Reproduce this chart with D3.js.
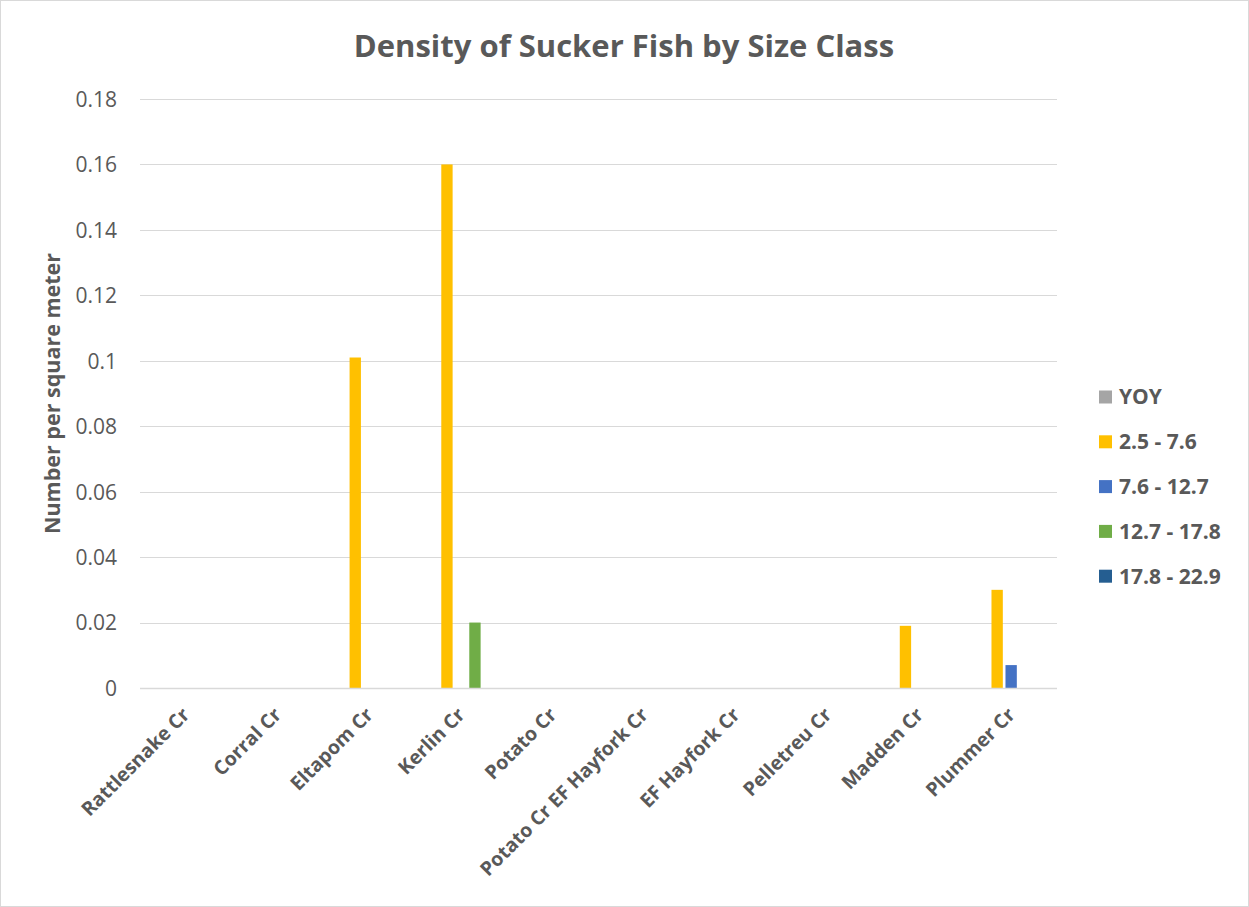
<!DOCTYPE html>
<html>
<head>
<meta charset="utf-8">
<script src="https://cdn.jsdelivr.net/npm/d3@7"></script>
<style>
  html, body { margin: 0; padding: 0; background: #fff; }
  svg { display: block; }
</style>
</head>
<body>
<script>
// Sucker fish density per stream, grouped by size class (cm)
const categories = ["Rattlesnake Cr", "Corral Cr", "Eltapom Cr", "Kerlin Cr", "Potato Cr",
  "Potato Cr EF Hayfork Cr", "EF Hayfork Cr", "Pelletreu Cr", "Madden Cr", "Plummer Cr"];
const seriesNames = ["YOY", "2.5 - 7.6", "7.6 - 12.7", "12.7 - 17.8", "17.8 - 22.9"];
const seriesColors = ["#a5a5a5", "#ffc000", "#4472c4", "#70ad47", "#255e91"];
const yoy      = [0, 0, 0, 0, 0, 0, 0, 0, 0, 0];
const s25_76   = [0, 0, 0.101, 0.16, 0, 0, 0, 0, 0.019, 0.03];
const s76_127  = [0, 0, 0, 0, 0, 0, 0, 0, 0, 0.007];
const s127_178 = [0, 0, 0, 0.02, 0, 0, 0, 0, 0, 0];
const s178_229 = [0, 0, 0, 0, 0, 0, 0, 0, 0, 0];
const yTicks = [0, 0.02, 0.04, 0.06, 0.08, 0.1, 0.12, 0.14, 0.16, 0.18];

const seriesValues = [yoy, s25_76, s76_127, s127_178, s178_229];

const W = 1249, H = 907;
const plotLeft = 140, plotRight = 1057, plotTop = 99, plotBottom = 688;
const textColor = "#595959";
const font = "'Open Sans', 'Liberation Sans', sans-serif";

const svg = d3.select("body").append("svg").attr("width", W).attr("height", H);
svg.append("rect").attr("x", 0.5).attr("y", 0.5).attr("width", W - 1).attr("height", H - 1)
  .attr("fill", "#fff").attr("stroke", "#d9d9d9");

const x = d3.scaleBand().domain(categories).range([plotLeft, plotRight]).paddingInner(0).paddingOuter(0);
const y = d3.scaleLinear().domain([0, 0.18]).range([plotBottom, plotTop]);
// five slots per category, bars occupy the middle of each group
const groupWidth = 70;
const xs = d3.scaleBand().domain(seriesNames)
  .range([(x.bandwidth() - groupWidth) / 2, (x.bandwidth() + groupWidth) / 2])
  .paddingInner(0.19).paddingOuter(0.095);

// gridlines
svg.append("g").selectAll("line").data(yTicks.slice(1)).join("line")
  .attr("x1", plotLeft).attr("x2", plotRight)
  .attr("y1", d => Math.round(y(d)) + 0.5).attr("y2", d => Math.round(y(d)) + 0.5)
  .attr("stroke", "#d9d9d9").attr("stroke-width", 1);

// y tick labels
const yAxis = d3.axisLeft(y).tickValues(yTicks).tickSize(0).tickPadding(0)
  .tickFormat(d => String(+d.toFixed(2)));
const gy = svg.append("g").attr("transform", `translate(117,0)`).call(yAxis);
gy.select(".domain").remove();
gy.selectAll("text").attr("fill", textColor).attr("font-family", font).attr("font-size", 21).attr("dy", "0.35em");

// bars
const groups = svg.append("g").selectAll("g").data(seriesNames).join("g")
  .attr("fill", (d, i) => seriesColors[i]);
groups.selectAll("rect")
  .data((s, i) => categories.map((c, j) => ({ c, s, v: seriesValues[i][j] })))
  .join("rect")
  .attr("x", d => x(d.c) + xs(d.s))
  .attr("width", xs.bandwidth())
  .attr("y", d => y(d.v))
  .attr("height", d => y(0) - y(d.v));

// baseline
svg.append("line").attr("x1", plotLeft).attr("x2", plotRight)
  .attr("y1", plotBottom + 0.5).attr("y2", plotBottom + 0.5).attr("stroke", "#d9d9d9").attr("stroke-width", 1.5);

// category labels, rotated
const xAxis = d3.axisBottom(x).tickSize(0).tickPadding(0);
const gx = svg.append("g").attr("transform", `translate(0,${plotBottom})`).call(xAxis);
gx.select(".domain").remove();
gx.selectAll("text")
  .attr("fill", textColor).attr("font-family", font).attr("font-size", 19.5).attr("font-weight", "bold")
  .attr("text-anchor", "end").attr("dy", null).attr("y", 0)
  .attr("transform", "translate(5,28) rotate(-45)");

// title
svg.append("text").attr("x", 624).attr("y", 57).attr("text-anchor", "middle")
  .attr("fill", textColor).attr("font-family", font).attr("font-size", 31).attr("font-weight", "bold")
  .text("Density of Sucker Fish by Size Class");

// y axis title
svg.append("text").attr("transform", `translate(60,${(plotTop + plotBottom) / 2}) rotate(-90)`)
  .attr("text-anchor", "middle").attr("fill", textColor).attr("font-family", font)
  .attr("font-size", 21.5).attr("font-weight", "bold").text("Number per square meter");

// legend
const legend = svg.append("g").selectAll("g").data(seriesNames).join("g")
  .attr("transform", (d, i) => `translate(1099,${397 + i * 44.8})`);
legend.append("rect").attr("x", 0).attr("y", -6.5).attr("width", 13).attr("height", 13)
  .attr("fill", (d, i) => seriesColors[i]);
legend.append("text").attr("x", 20).attr("y", 0).attr("dy", "0.35em")
  .attr("fill", textColor).attr("font-family", font).attr("font-size", 21).attr("font-weight", "bold")
  .text(d => d);
</script>
</body>
</html>
